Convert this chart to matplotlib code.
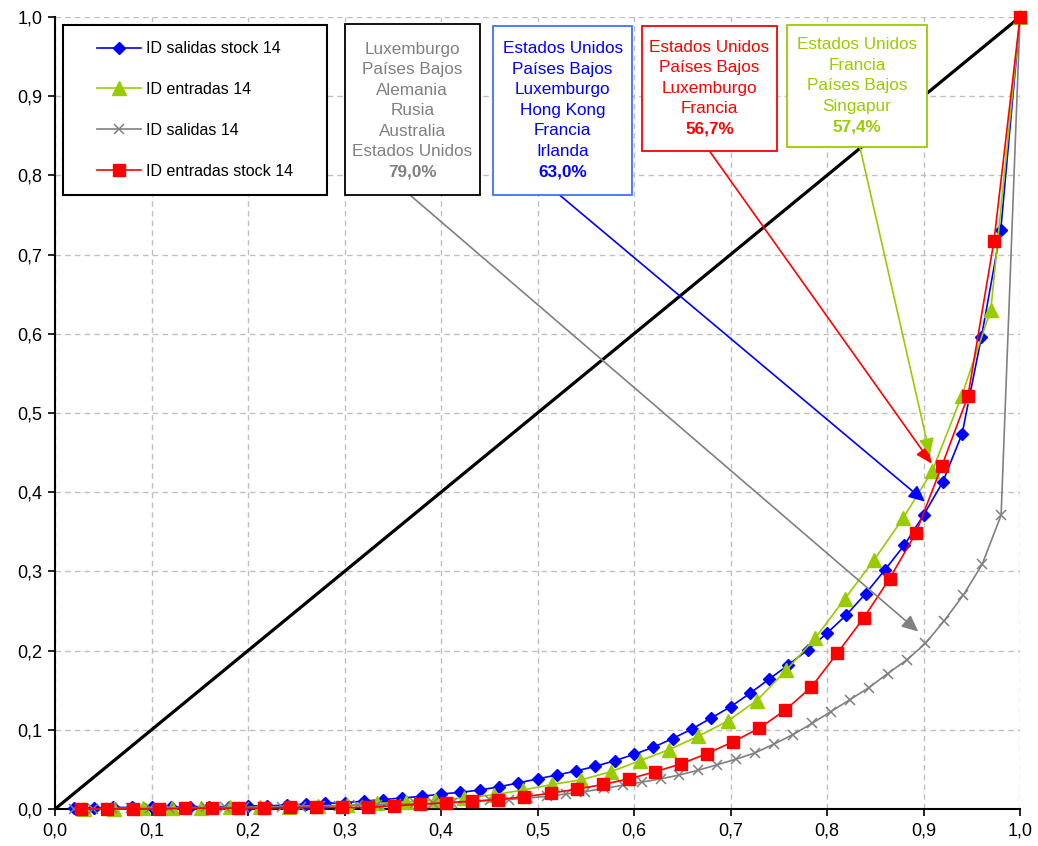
import matplotlib
matplotlib.use('Agg')
import matplotlib.pyplot as plt
import numpy as np
from matplotlib.patches import Rectangle

plt.rcParams['font.family'] = ['Liberation Sans', 'DejaVu Sans']

# cumulative shares, points evenly spread along x (one point per country)
salidas_stock_14 = [0.001, 0.001, 0.002, 0.002, 0.002, 0.002, 0.003, 0.003, 0.003, 0.004,
                    0.004, 0.005, 0.006, 0.007, 0.008, 0.010, 0.012, 0.014, 0.016, 0.019,
                    0.021, 0.024, 0.028, 0.033, 0.038, 0.043, 0.048, 0.054, 0.061, 0.069,
                    0.078, 0.089, 0.101, 0.115, 0.129, 0.146, 0.164, 0.182, 0.201, 0.222,
                    0.245, 0.272, 0.302, 0.333, 0.371, 0.413, 0.474, 0.596, 0.731, 1.000]
entradas_14 = [0.000, 0.000, 0.001, 0.001, 0.001, 0.002, 0.002, 0.003, 0.004, 0.005,
               0.007, 0.009, 0.011, 0.014, 0.018, 0.024, 0.031, 0.037, 0.047, 0.061,
               0.075, 0.092, 0.111, 0.137, 0.175, 0.216, 0.265, 0.314, 0.367, 0.427,
               0.521, 0.630, 1.000]
salidas_14 = [0.000, 0.000, 0.001, 0.001, 0.001, 0.001, 0.002, 0.002, 0.002, 0.002,
              0.003, 0.003, 0.003, 0.004, 0.004, 0.005, 0.005, 0.006, 0.007, 0.007,
              0.008, 0.009, 0.011, 0.012, 0.014, 0.016, 0.019, 0.022, 0.026, 0.030,
              0.034, 0.038, 0.043, 0.049, 0.056, 0.063, 0.071, 0.082, 0.094, 0.108,
              0.123, 0.138, 0.153, 0.171, 0.188, 0.209, 0.238, 0.270, 0.309, 0.371, 1.000]
entradas_stock_14 = [0.000, 0.000, 0.000, 0.000, 0.001, 0.001, 0.001, 0.001, 0.002, 0.002,
                     0.002, 0.002, 0.004, 0.006, 0.008, 0.010, 0.012, 0.0155, 0.020, 0.025,
                     0.031, 0.038, 0.047, 0.057, 0.070, 0.085, 0.102, 0.125, 0.154, 0.197,
                     0.241, 0.291, 0.348, 0.433, 0.521, 0.717, 1.000]

series_labels = ['ID salidas stock 14', 'ID entradas 14', 'ID salidas 14', 'ID entradas stock 14']
series_colors = ['#0000FF', '#99CC00', '#808080', '#FF0000']

box_lines = [
    ['Luxemburgo', 'Países Bajos', 'Alemania', 'Rusia', 'Australia', 'Estados Unidos'],
    ['Estados Unidos', 'Países Bajos', 'Luxemburgo', 'Hong Kong', 'Francia', 'Irlanda'],
    ['Estados Unidos', 'Países Bajos', 'Luxemburgo', 'Francia'],
    ['Estados Unidos', 'Francia', 'Países Bajos', 'Singapur'],
]
box_pcts = ['79,0%', '63,0%', '56,7%', '57,4%']
box_text_colors = ['#808080', '#0000FF', '#FF0000', '#99CC00']
box_edge_colors = ['#000000', '#3F6FFF', '#FF0000', '#99CC00']
# box extents (x0, x1, y0, y1), first text line y, arrow (start, tip)
box_ext = [(0.3005, 0.440, 0.775, 0.991),
           (0.454, 0.598, 0.775, 0.989),
           (0.608, 0.748, 0.831, 0.988),
           (0.758, 0.904, 0.836, 0.990)]
box_first_line = [0.959, 0.960, 0.962, 0.965]
arrow_start = [(0.368, 0.775), (0.523, 0.775), (0.678, 0.831), (0.834, 0.836)]
arrow_tip = [(0.8946, 0.224), (0.9016, 0.388), (0.9085, 0.436), (0.9067, 0.447)]


def xs(vals):
    n = len(vals)
    return np.arange(1, n + 1) / n


fig = plt.figure(figsize=(10.38, 8.46), dpi=100)
ax = fig.add_axes([0.053, 0.0437, 0.9297, 0.9363])

ax.plot([0, 1], [0, 1], color='black', lw=2.3, zorder=2)

styles = [dict(marker='D', ms=6.5),
          dict(marker='^', ms=9.5),
          dict(marker='x', ms=7, mew=1.1),
          dict(marker='s', ms=8.5)]
handles = []
for vals, lab, col, st in zip([salidas_stock_14, entradas_14, salidas_14, entradas_stock_14],
                              series_labels, series_colors, styles):
    h, = ax.plot(xs(vals), vals, color=col, lw=1.2, mec=col, mfc=col,
                 label=lab, zorder=3, clip_on=False, **st)
    handles.append(h)

ax.set_xlim(0, 1)
ax.set_ylim(0, 1)
ticks = np.round(np.arange(0, 1.01, 0.1), 1)
ax.set_xticks(ticks)
ax.set_yticks(ticks)
ax.set_xticklabels([f'{t:.1f}'.replace('.', ',') for t in ticks])
ax.set_yticklabels([f'{t:.1f}'.replace('.', ',') for t in ticks])
ax.tick_params(labelsize=13, length=5, width=1.2, direction='out', pad=4)
ax.tick_params(axis='x', pad=5)
ax.grid(True, color='#C0C0C0', ls=(0, (4, 3)), lw=1)
ax.set_axisbelow(True)
for s in ['top', 'right']:
    ax.spines[s].set_visible(False)
for s in ['left', 'bottom']:
    ax.spines[s].set_linewidth(1.5)

# legend frame + legend
ax.add_patch(Rectangle((0.008, 0.775), 0.274, 0.215, fill=True, fc='white',
                       ec='black', lw=1.5, zorder=5))
leg = ax.legend(handles=handles, loc='center', bbox_to_anchor=(0.145, 0.8825),
                frameon=False, fontsize=11.5, labelspacing=1.62, handlelength=2.8,
                handletextpad=0.3)
leg.set_zorder(6)

line_step = 20.5 / 792
for k in range(4):
    x0, x1, y0, y1 = box_ext[k]
    ax.add_patch(Rectangle((x0, y0), x1 - x0, y1 - y0, fc='white', ec=box_edge_colors[k],
                           lw=1.3, zorder=5))
    xc = (x0 + x1) / 2
    ytop = box_first_line[k]
    for j, t in enumerate(box_lines[k]):
        ax.text(xc, ytop - j * line_step, t, color=box_text_colors[k], fontsize=12.3,
                ha='center', va='center', zorder=6)
    ax.text(xc, ytop - len(box_lines[k]) * line_step, box_pcts[k], color=box_text_colors[k],
            fontsize=12.3, fontweight='bold', ha='center', va='center', zorder=6)
    ax.annotate('', xy=arrow_tip[k], xytext=arrow_start[k],
                arrowprops=dict(arrowstyle='-|>,head_length=0.55,head_width=0.25',
                                color=box_text_colors[k], lw=1.2, mutation_scale=18,
                                shrinkA=0, shrinkB=0), zorder=4)

fig.savefig('out.png', dpi=100)
